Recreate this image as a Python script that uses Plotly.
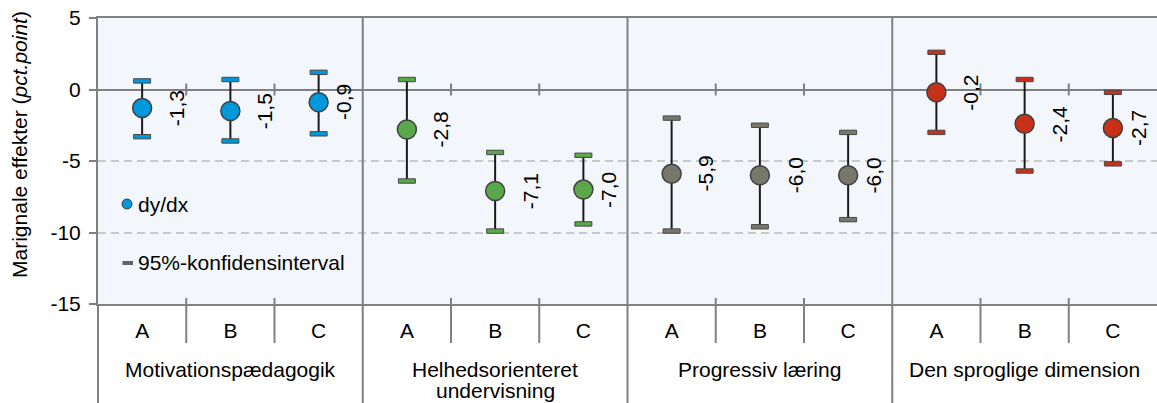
import plotly.graph_objects as go

# Marginal effects (dy/dx) with 95% confidence intervals per teaching dimension
groups = ["Motivationspædagogik", "Helhedsorienteret<br>undervisning",
          "Progressiv læring", "Den sproglige dimension"]
subgroups = ["A", "B", "C"]
dydx = [-1.3, -1.5, -0.9, -2.8, -7.1, -7.0, -5.9, -6.0, -6.0, -0.2, -2.4, -2.7]
ci_low = [-3.3, -3.6, -3.1, -6.4, -9.9, -9.4, -9.9, -9.6, -9.1, -3.0, -5.7, -5.2]
ci_high = [0.6, 0.7, 1.2, 0.7, -4.4, -4.6, -2.0, -2.5, -3.0, 2.6, 0.7, -0.2]
group_colors = ["#0098DA", "#5BA84B", "#77776A", "#C73118"]
y_ticks = [5, 0, -5, -10, -15]

legend_point = "dy/dx"
legend_ci = "95%-konfidensinterval"
y_title = "Marignale effekter (<i>pct.point</i>)"

FONT = "Liberation Sans, Arial, sans-serif"
FS = 21
AXIS_GREY = "#808080"
EDGE_GREY = "#474747"
n_sub = len(subgroups)
n_cat = len(groups) * n_sub
label_shift = [34, 35, 25]

fig = go.Figure()

shapes = []
annotations = []

for g, (name, color) in enumerate(zip(groups, group_colors)):
    idx = list(range(g * n_sub, (g + 1) * n_sub))
    vals = [dydx[i] for i in idx]
    hi = [ci_high[i] - dydx[i] for i in idx]
    lo = [dydx[i] - ci_low[i] for i in idx]
    fig.add_trace(go.Scatter(
        x=idx, y=vals, mode="markers", showlegend=False,
        marker=dict(size=19, color=color, line=dict(color="#404040", width=1.5)),
        error_y=dict(type="data", symmetric=False, array=hi, arrayminus=lo,
                     color="#1A1A1A", thickness=2, width=0),
    ))
    # capped ends of the confidence interval
    for i in idx:
        for end in (ci_low[i], ci_high[i]):
            shapes.append(dict(
                type="rect", xref="x", yref="y", layer="above",
                xsizemode="pixel", xanchor=i, x0=-8.5, x1=8.5,
                ysizemode="pixel", yanchor=end, y0=-2.2, y1=2.2,
                fillcolor=color, line=dict(color=EDGE_GREY, width=1),
            ))
        annotations.append(dict(
            x=i, y=dydx[i], xref="x", yref="y", showarrow=False,
            text=f"{dydx[i]:.1f}".replace(".", ","), textangle=-90,
            xanchor="center", yanchor="middle", xshift=label_shift[i - g * n_sub],
            font=dict(family=FONT, size=FS, color="#000000"),
        ))
    # group label under the sub-categories, one line at a time
    for k, line in enumerate(name.split("<br>")):
        annotations.append(dict(
            x=(g * n_sub + (g + 1) * n_sub - 1) / 2, y=0, xref="x", yref="paper",
            showarrow=False, text=line, xanchor="center", yanchor="middle",
            yshift=-65 - 21 * k,
            font=dict(family=FONT, size=FS, color="#000000"),
        ))

# tick marks between sub-categories (on zero line and at bottom axis)
for g in range(len(groups)):
    for s in range(1, n_sub):
        b = g * n_sub + s - 0.5
        shapes.append(dict(type="line", xref="x", yref="y", ysizemode="pixel",
                           yanchor=0, y0=-6, y1=6, x0=b, x1=b,
                           line=dict(color=AXIS_GREY, width=2)))
        shapes.append(dict(type="line", xref="x", yref="paper", ysizemode="pixel",
                           yanchor=0, y0=-39, y1=6, x0=b, x1=b,
                           line=dict(color=AXIS_GREY, width=2)))
# group separators running through the label area
for g in range(1, len(groups)):
    b = g * n_sub - 0.5
    shapes.append(dict(type="line", xref="x", yref="paper", ysizemode="pixel",
                       yanchor=1, y0=0, y1=-400, x0=b, x1=b,
                       line=dict(color=AXIS_GREY, width=2)))
shapes.append(dict(type="line", xref="paper", yref="paper", ysizemode="pixel",
                   yanchor=0, y0=0, y1=-400, x0=0, x1=0,
                   line=dict(color=AXIS_GREY, width=2)))

# legend
shapes.append(dict(type="circle", xref="paper", yref="paper",
                   xsizemode="pixel", xanchor=0, x0=24, x1=34,
                   ysizemode="pixel", yanchor=1, y0=-181, y1=-191,
                   fillcolor=group_colors[0], line=dict(color="#404040", width=1)))
shapes.append(dict(type="rect", xref="paper", yref="paper",
                   xsizemode="pixel", xanchor=0, x0=24.5, x1=35,
                   ysizemode="pixel", yanchor=1, y0=-243, y1=-247,
                   fillcolor="#5E646B", line=dict(width=0)))
annotations.append(dict(x=0, y=1, xref="paper", yref="paper", showarrow=False,
                        text=legend_point, xanchor="left", yanchor="middle",
                        xshift=38, yshift=-186,
                        font=dict(family=FONT, size=FS, color="#000000")))
annotations.append(dict(x=0, y=1, xref="paper", yref="paper", showarrow=False,
                        text=legend_ci, xanchor="left", yanchor="middle",
                        xshift=38, yshift=-244,
                        font=dict(family=FONT, size=FS, color="#000000")))

# y axis title
annotations.append(dict(x=0, y=0.556, xref="paper", yref="paper", showarrow=False,
                        text=y_title, textangle=-90, xanchor="center", yanchor="middle",
                        xshift=-78, font=dict(family=FONT, size=FS, color="#000000")))

fig.update_layout(
    width=1157, height=403,
    margin=dict(l=98, r=0, t=18, b=99),
    paper_bgcolor="#FFFFFF", plot_bgcolor="#F3F7FB",
    font=dict(family=FONT, size=FS, color="#000000"),
    shapes=shapes, annotations=annotations,
    showlegend=False,
)
fig.update_xaxes(
    range=[-0.5, n_cat - 0.5], tickvals=list(range(n_cat)),
    ticktext=subgroups * len(groups), ticks="", ticklabelstandoff=7,
    showgrid=False, zeroline=False, showline=True, linecolor=AXIS_GREY,
    linewidth=2, mirror=True,
)
fig.update_yaxes(
    range=[-15, 5], tickvals=y_ticks, ticktext=[str(v) for v in y_ticks],
    ticks="outside", ticklen=7, tickwidth=2, tickcolor=AXIS_GREY,
    ticklabelstandoff=4,
    showgrid=True, gridcolor="#C9C9C9", gridwidth=1.5, griddash="8px,5px",
    zeroline=True, zerolinecolor=AXIS_GREY, zerolinewidth=2,
    showline=True, linecolor=AXIS_GREY, linewidth=2,
)

fig.write_html("out.html")
